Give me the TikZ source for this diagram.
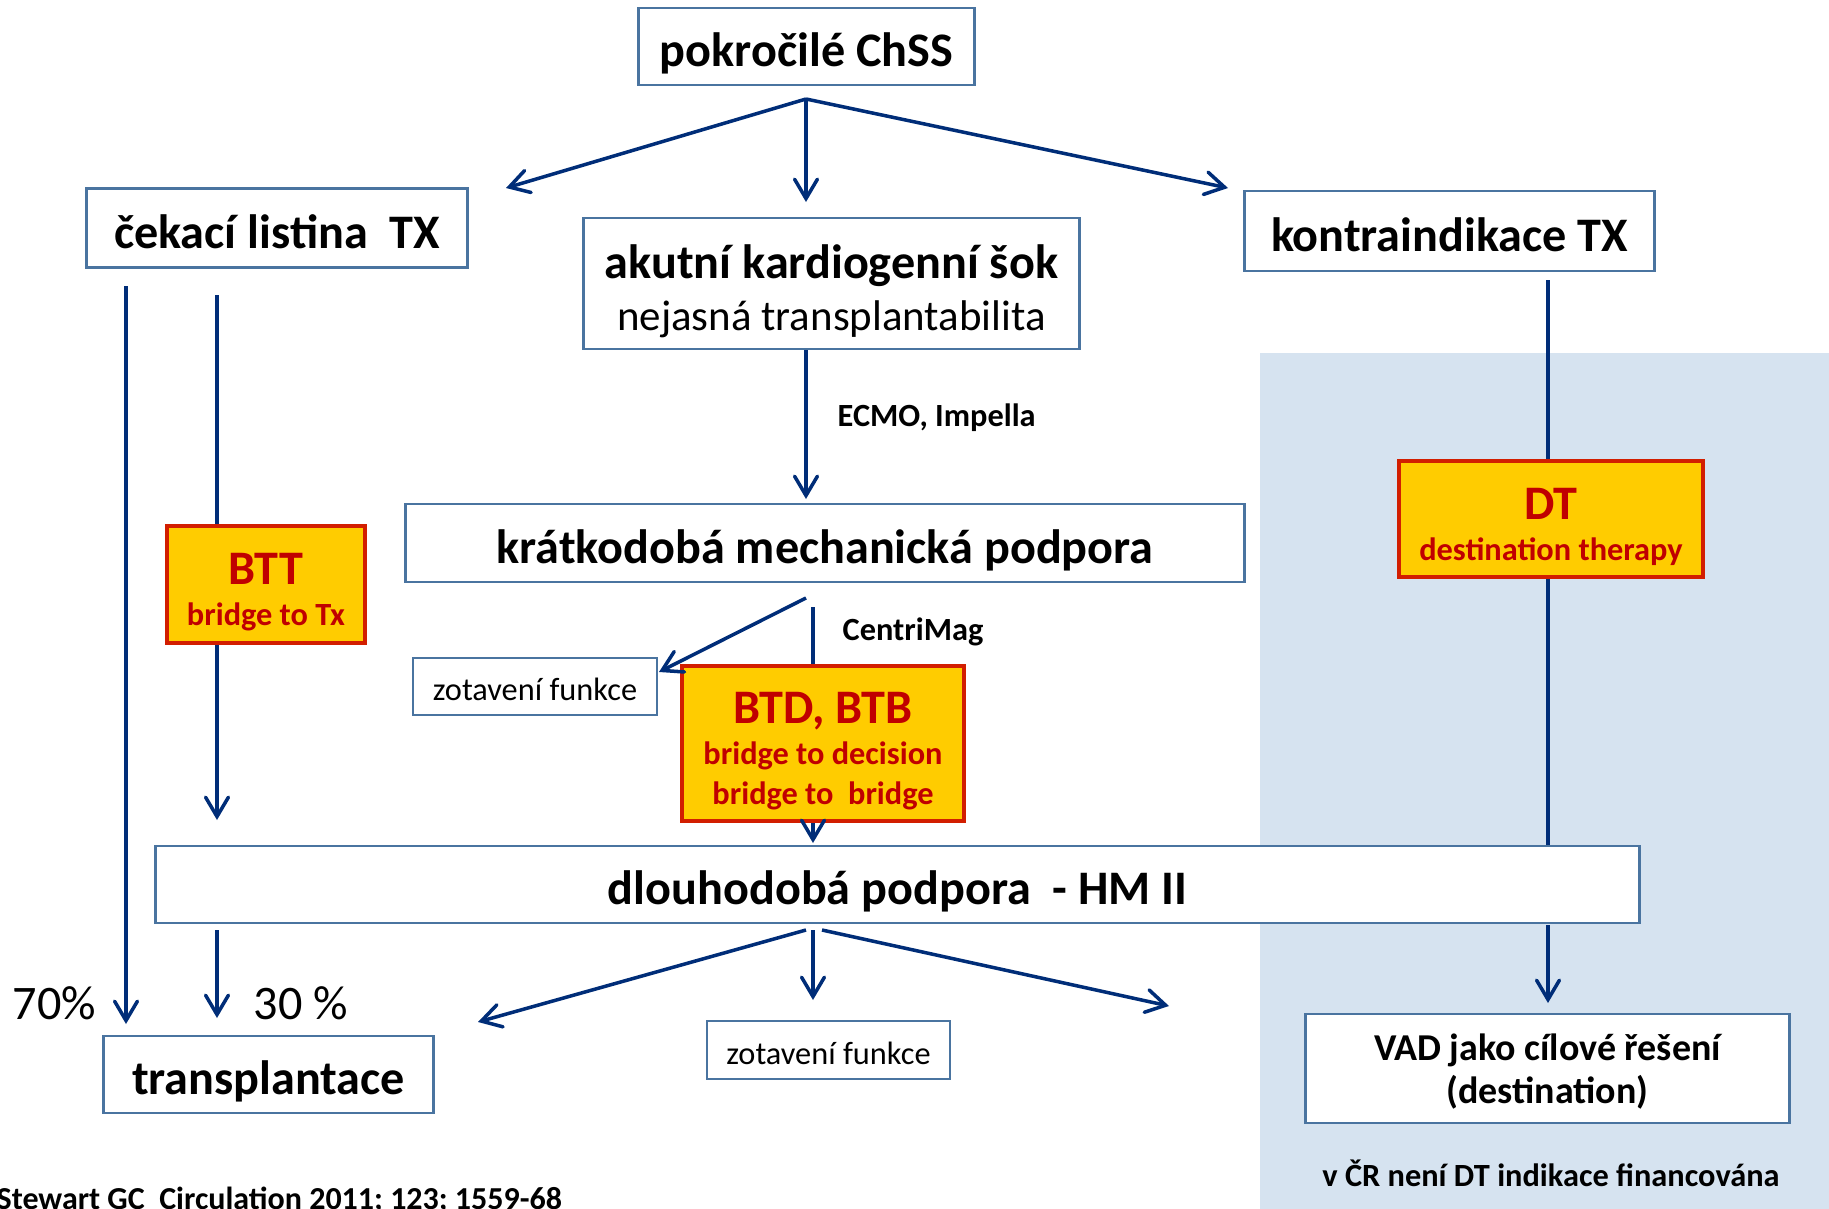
\documentclass[tikz,border=0pt]{standalone}
\usepackage{fontspec}
\setmainfont{Carlito}
\usetikzlibrary{arrows.meta}
\definecolor{boxblue}{RGB}{74,116,160}
\definecolor{arrowblue}{RGB}{0,45,120}
\definecolor{bridgeyellow}{RGB}{255,204,0}
\definecolor{bridgered}{RGB}{210,30,0}
\definecolor{textred}{RGB}{192,0,0}
\definecolor{dtback}{RGB}{214,227,240}
\newcommand{\mainfnt}{\fontsize{13.7}{16.4}\selectfont\bfseries}
\newcommand{\midfnt}{\fontsize{10.8}{12.8}\selectfont\bfseries}
\newcommand{\smallfnt}{\fontsize{9.2}{11}\selectfont}

\begin{document}
\begin{tikzpicture}[x=0.01cm,y=-0.01cm,
    box/.style={draw=boxblue,line width=0.8pt,fill=white,inner sep=0pt,align=center},
    bigbox/.style={box,font=\mainfnt,text height=11.4pt,text depth=0pt},
    smallbox/.style={box,font=\smallfnt,text height=8.2pt,text depth=0pt},
    bridge/.style={draw=bridgered,line width=1.2pt,fill=bridgeyellow,inner sep=0pt,align=center,text=textred,font=\mainfnt,text depth=0pt},
    arr/.style={draw=arrowblue,line width=1pt,-{Straight Barb[length=5.5pt,width=6.5pt,line cap=round]}},
    ln/.style={draw=arrowblue,line width=1pt},
    lbl/.style={inner sep=0pt,font=\smallfnt\bfseries}]
    \useasboundingbox (0,0) rectangle (1829,1209);
    \fill[dtback] (1260,353) rectangle (1829,1209);

    \node[bigbox,minimum width=3.35cm,minimum height=0.77cm] (top) at (806.5,46.5) {pokročilé ChSS};
    \node[bigbox,minimum width=3.8cm,minimum height=0.79cm] (wait) at (277,228) {čekací listina\ \ TX};
    \node[box,font=\mainfnt,text depth=0pt,minimum width=4.95cm,minimum height=1.31cm] (shock) at (831.5,283.5) {\rule{0pt}{12pt}akutní kardiogenní šok\\[-1.5pt]{\fontsize{12.2}{14.6}\selectfont\mdseries nejasná transplantabilita}};
    \node[bigbox,minimum width=4.09cm,minimum height=0.8cm] (contra) at (1449.5,231) {kontraindikace TX};
    \node[bigbox,minimum width=8.38cm,minimum height=0.78cm] (short) at (825,543) {krátkodobá mechanická podpora};
    \node[bridge,minimum width=1.98cm,minimum height=1.17cm] (btt) at (266,584.5) {\rule{0pt}{11.6pt}BTT\\[-4.6pt]{\smallfnt\bfseries bridge to Tx}};
    \node[bridge,minimum width=3.04cm,minimum height=1.16cm] (dt) at (1551,519) {\rule{0pt}{11.9pt}DT\\[-4.6pt]{\smallfnt\bfseries destination therapy}};
    \node[smallbox,minimum width=2.44cm,minimum height=0.57cm] (recova) at (535,686.5) {zotavení funkce};
    \node[bridge,minimum width=2.82cm,minimum height=1.55cm] (btd) at (823,743.5) {\rule{0pt}{11.6pt}BTD, BTB\\[-4.9pt]{\smallfnt\bfseries bridge to decision}\\[-5pt]{\smallfnt\bfseries bridge to\ \ bridge}};
    \node[bigbox,minimum width=14.83cm,minimum height=0.77cm] (long) at (897.5,884.5) {dlouhodobá podpora\ \ - HM II};
    \node[bigbox,minimum width=3.29cm,minimum height=0.77cm] (tx) at (268.5,1074.5) {transplantace};
    \node[smallbox,minimum width=2.43cm,minimum height=0.58cm] (recovb) at (828.5,1050) {zotavení funkce};
    \node[box,font=\midfnt,text depth=0pt,minimum width=4.83cm,minimum height=1.09cm] (vad) at (1547.5,1068.5) {\rule{0pt}{7.8pt}VAD jako cílové řešení\\[-0.7pt](destination)};

    \node[lbl,anchor=west] (ecmo) at (837,417.5) {ECMO, Impella};
    \node[lbl,anchor=west] (centri) at (842,632) {CentriMag};
    \node[inner sep=0pt,anchor=west,font=\mainfnt\mdseries] (seventy) at (12,1003) {70\%};
    \node[inner sep=0pt,anchor=west,font=\mainfnt\mdseries] (thirty) at (253,1003) {30 \%};
    \node[inner sep=0pt,anchor=west,font=\fontsize{9.1}{11}\selectfont\bfseries] (cite) at (-4,1200) {Stewart GC\ \ Circulation 2011; 123; 1559-68};
    \node[lbl] (cr) at (1551,1173) {v ČR není DT indikace financována};

    \coordinate (fa) at (806,99);
    \coordinate (fl) at (506,188);
    \coordinate (fm) at (806,202);
    \coordinate (fr) at (1228,188);
    \draw[arr] (fa) -- (fl);
    \draw[arr] (fa) -- (fm);
    \draw[arr] (fa) -- (fr);
    \coordinate (sb) at (806,499);
    \draw[arr] (fa |- shock.south) -- (sb);

    \coordinate (wa) at (126,286);
    \coordinate (wb) at (126,1024);
    \draw[arr] (wa) -- (wb);
    \coordinate (wc) at (217,295);
    \draw[ln] (wc) -- (wc |- btt.north);
    \coordinate (wd) at (217,820);
    \draw[arr] (wc |- btt.south) -- (wd);
    \coordinate (we) at (217,930);
    \coordinate (wf) at (217,1018);
    \draw[arr] (we) -- (wf);

    \coordinate (ka) at (806,598);
    \coordinate (kb) at (659,672);
    \draw[arr] (ka) -- (kb);
    \coordinate (kc) at (813,607);
    \draw[ln] (kc) -- (kc |- btd.north);
    \coordinate (kd) at (813,843);
    \draw[arr] (kc |- btd.south) -- (kd);

    \coordinate (ca) at (1548,280);
    \draw[ln] (ca) -- (ca |- dt.north);
    \draw[ln] (ca |- dt.south) -- (ca |- long.north);
    \coordinate (cb) at (1548,925);
    \coordinate (cc) at (1548,1003);
    \draw[arr] (cb) -- (cc);

    \coordinate (la) at (806,930);
    \coordinate (lb) at (478,1022);
    \coordinate (lc) at (813,930);
    \coordinate (ld) at (813,1000);
    \coordinate (le) at (822,930);
    \coordinate (lf) at (1169,1006);
    \draw[arr] (la) -- (lb);
    \draw[arr] (lc) -- (ld);
    \draw[arr] (le) -- (lf);
\end{tikzpicture}
\end{document}
